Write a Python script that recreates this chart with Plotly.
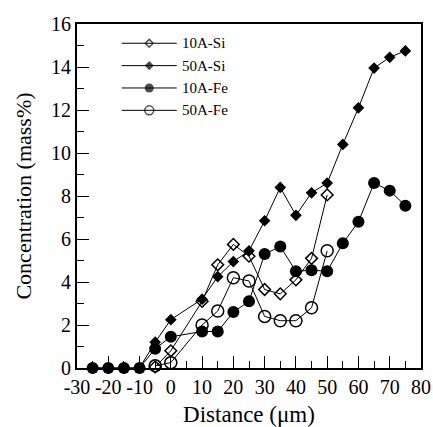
import plotly.graph_objects as go

# Concentration profiles across the interface (mass%)
dist_10a_si = [-5, 0, 10, 15, 20, 25, 30, 35, 40, 45, 50]
conc_10a_si = [0.05, 0.8, 3.1, 4.8, 5.75, 5.2, 3.65, 3.45, 4.1, 5.1, 8.05]

dist_50a_si = [-25, -20, -15, -10, -5, 0, 10, 15, 20, 25, 30, 35, 40, 45, 50, 55, 60, 65, 70, 75]
conc_50a_si = [0, 0, 0, 0, 1.2, 2.25, 3.2, 4.25, 4.95, 5.45, 6.85, 8.4, 7.1, 8.15, 8.6, 10.4, 12.1, 13.95, 14.45, 14.75]

dist_10a_fe = [-25, -20, -15, -10, -5, 0, 10, 15, 20, 25, 30, 35, 40, 45, 50, 55, 60, 65, 70, 75]
conc_10a_fe = [0, 0, 0, 0, 0.9, 1.45, 1.7, 1.7, 2.6, 3.1, 5.3, 5.65, 4.5, 4.55, 4.5, 5.8, 6.8, 8.6, 8.25, 7.55]

dist_50a_fe = [-5, 0, 10, 15, 20, 25, 30, 35, 40, 45, 50]
conc_50a_fe = [0.1, 0.25, 2.0, 2.65, 4.2, 4.05, 2.4, 2.2, 2.2, 2.8, 5.45]

series_names = ["10A-Si", "50A-Si", "10A-Fe", "50A-Fe"]

x_tick_vals = [-30, -20, -10, 0, 10, 20, 30, 40, 50, 60, 70, 80]
x_tick_text = ["-30", "-20", "-10", "0", "10", "20", "30", "40", "50", "60", "70", "80"]
y_tick_vals = [0, 2, 4, 6, 8, 10, 12, 14, 16]

FONT = "Liberation Serif"
INK = "black"

styles = [
    dict(symbol="diamond-open", size=9, line=dict(color=INK, width=1.5), color=INK),
    dict(symbol="diamond", size=9, line=dict(color=INK, width=0), color=INK),
    dict(symbol="circle", size=12, line=dict(color=INK, width=0), color=INK),
    dict(symbol="circle-open", size=12, line=dict(color=INK, width=1.5), color=INK),
]
legend_sizes = [6, 7, 9, 9]

data = [
    (dist_10a_si, conc_10a_si),
    (dist_50a_si, conc_50a_si),
    (dist_10a_fe, conc_10a_fe),
    (dist_50a_fe, conc_50a_fe),
]

fig = go.Figure()

# draw order: filled circles under, Si series on top
order = [2, 3, 1, 0]
for i in order:
    xs, ys = data[i]
    fig.add_trace(go.Scatter(
        x=xs, y=ys, mode="lines+markers", name=series_names[i],
        line=dict(color=INK, width=1),
        marker=styles[i], showlegend=False, cliponaxis=False,
    ))

# key box drawn on an overlay axis in plot-fraction units
key_x0, key_x1 = 0.13, 0.29
key_top, key_step = 0.944, 0.065
for i, name in enumerate(series_names):
    yk = key_top - i * key_step
    st = dict(styles[i])
    st["size"] = [0, legend_sizes[i], 0]
    fig.add_trace(go.Scatter(
        x=[key_x0, (key_x0 + key_x1) / 2, key_x1], y=[yk] * 3,
        mode="lines+markers", line=dict(color=INK, width=1),
        marker=st, showlegend=False, xaxis="x2", yaxis="y2",
        hoverinfo="skip",
    ))
    fig.add_annotation(
        x=key_x1 + 0.01, y=yk, xref="x2", yref="y2", text=name,
        showarrow=False, xanchor="left", yanchor="middle",
        font=dict(family=FONT, size=15, color=INK),
    )

fig.update_layout(
    width=433, height=427,
    margin=dict(l=77, r=12, t=24, b=59),
    paper_bgcolor="white", plot_bgcolor="white",
    font=dict(family=FONT, color=INK),
    xaxis=dict(
        range=[-30, 80], tickvals=x_tick_vals, ticktext=x_tick_text,
        ticks="inside", ticklen=12, tickwidth=1.3, tickcolor=INK,
        minor=dict(dtick=5, tick0=0, ticks="inside", ticklen=7, tickwidth=1.3, tickcolor=INK),
        showline=True, linecolor=INK, linewidth=2, mirror=True,
        showgrid=False, zeroline=False, automargin=False,
        tickfont=dict(family=FONT, size=20, color=INK),
        title=dict(text="Distance (\u03bcm)", font=dict(family=FONT, size=23, color=INK), standoff=9),
    ),
    yaxis=dict(
        range=[0, 16], tickvals=y_tick_vals,
        ticks="inside", ticklen=12, tickwidth=1.3, tickcolor=INK,
        minor=dict(dtick=1, tick0=0, ticks="inside", ticklen=7, tickwidth=1.3, tickcolor=INK),
        showline=True, linecolor=INK, linewidth=2, mirror=True,
        showgrid=False, zeroline=False, automargin=False,
        tickfont=dict(family=FONT, size=20, color=INK),
        title=dict(text="Concentration (mass%)", font=dict(family=FONT, size=22, color=INK), standoff=13),
    ),
    xaxis2=dict(domain=[0, 1], range=[0, 1], overlaying="x", visible=False, anchor="y2"),
    yaxis2=dict(domain=[0, 1], range=[0, 1], overlaying="y", visible=False, anchor="x2"),
)

fig.write_html("out.html")
